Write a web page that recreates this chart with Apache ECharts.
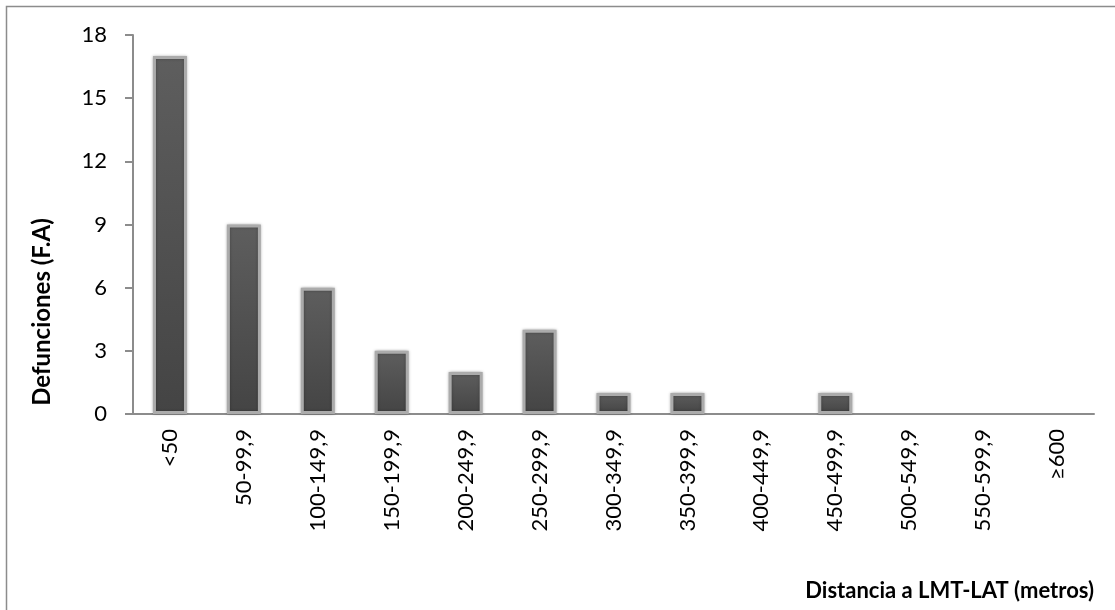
<!DOCTYPE html>
<html>
<head>
<meta charset="utf-8">
<script src="https://cdn.jsdelivr.net/npm/echarts@6/dist/echarts.min.js"></script>
<style>
  html, body { margin: 0; padding: 0; background: #fff; }
  #chart { width: 1115px; height: 610px; }
</style>
</head>
<body>
<div id="chart"></div>
<script>
// Distance bands (metres) and number of deaths in each band
const categories = ['<50', '50-99,9', '100-149,9', '150-199,9', '200-249,9', '250-299,9',
  '300-349,9', '350-399,9', '400-449,9', '450-499,9', '500-549,9', '550-599,9', '≥600'];
const deaths = [17, 9, 6, 3, 2, 4, 1, 1, 0, 1, 0, 0, 0];
const yTicks = { min: 0, max: 18, interval: 3 };
const yTitle = 'Defunciones (F.A)';
const xTitle = 'Distancia a LMT-LAT (metros)';

const FONT = 'Lato, "Open Sans", sans-serif';
const chart = echarts.init(document.getElementById('chart'));

// empty bands get no visible bar (no border sliver on the baseline)
const barData = deaths.map(v => v === 0
  ? { value: v, itemStyle: { opacity: 0 } }
  : v);

chart.setOption({
  animation: false,
  grid: { left: 133, right: 21, top: 35, bottom: 196 },
  graphic: [
    {
      type: 'rect', silent: true,
      shape: { x: 6.5, y: 6.5, width: 1200, height: 700 },
      style: { fill: 'none', stroke: '#8c8c8c', lineWidth: 1.5 }
    },
    {
      type: 'text', silent: true,
      x: 42, y: 312, rotation: Math.PI / 2,
      style: {
        text: yTitle, font: 'bold 24px ' + FONT, fill: '#000',
        align: 'center', verticalAlign: 'middle'
      }
    },
    {
      type: 'text', silent: true,
      x: 1094, y: 591,
      style: {
        text: xTitle, font: 'bold 22px ' + FONT, fill: '#000',
        align: 'right', verticalAlign: 'middle'
      }
    }
  ],
  xAxis: {
    type: 'category',
    data: categories,
    axisLine: { lineStyle: { color: '#8c8c8c', width: 2 } },
    axisTick: { show: false },
    axisLabel: {
      rotate: 90, margin: 15, color: '#000', fontFamily: FONT, fontSize: 22,
      interval: 0
    }
  },
  yAxis: {
    type: 'value',
    min: yTicks.min, max: yTicks.max, interval: yTicks.interval,
    axisLine: { show: true, lineStyle: { color: '#8c8c8c', width: 2 } },
    axisTick: { show: true, length: 8, lineStyle: { color: '#8c8c8c', width: 2 } },
    splitLine: { show: false },
    axisLabel: { margin: 26, color: '#000', fontFamily: FONT, fontSize: 22 }
  },
  series: [{
    type: 'bar',
    data: barData,
    barWidth: 34,
    itemStyle: {
      color: new echarts.graphic.LinearGradient(0, 0, 0, 1, [
        { offset: 0, color: '#5e5e5e' },
        { offset: 1, color: '#444444' }
      ]),
      borderColor: '#ababab',
      borderWidth: 3,
      shadowColor: 'rgba(0,0,0,0.3)',
      shadowBlur: 3
    }
  }]
});
</script>
</body>
</html>
